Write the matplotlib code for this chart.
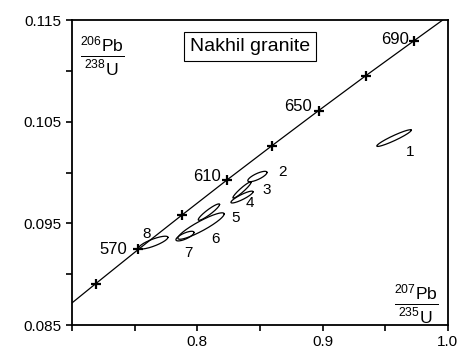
import numpy as np
import matplotlib as mpl
mpl.use('Agg')
from matplotlib import pyplot as plt

plt.rcParams['font.family'] = ['Liberation Sans', 'DejaVu Sans']
plt.rcParams['mathtext.fontset'] = 'custom'
plt.rcParams['mathtext.rm'] = 'Liberation Sans'

# concordia points (207Pb/235U, 206Pb/238U), stars every 20 Ma
ages = [550, 570, 590, 610, 630, 650, 670, 690]
conc_x = [0.7189, 0.7531, 0.7880, 0.8235, 0.8598, 0.8968, 0.9345, 0.9730]
conc_y = [0.08906, 0.09245, 0.09584, 0.09925, 0.10266, 0.10609, 0.10953, 0.11297]
# where the curve leaves the frame
line_x = [0.700] + conc_x + [0.9958]
line_y = [0.08717] + conc_y + [0.1150]
age_labels = {570: '570', 610: '610', 650: '650', 690: '690'}

# zircon error ellipses: centre, half widths, correlation
ell_id = ['1', '2', '3', '4', '5', '6', '7', '8']
ell_cx = [0.9570, 0.8480, 0.8357, 0.8357, 0.8093, 0.8030, 0.7902, 0.7650]
ell_cy = [0.10339, 0.09961, 0.09828, 0.09759, 0.09611, 0.09474, 0.09375, 0.09311]
ell_sx = [0.01377, 0.00766, 0.00725, 0.00883, 0.00850, 0.01848, 0.00721, 0.01161]
ell_sy = [0.000821, 0.000512, 0.000798, 0.000584, 0.000806, 0.001301, 0.000475, 0.000630]
ell_rho = [0.944, 0.777, 0.945, 0.883, 0.926, 0.91, 0.741, 0.813]
# label positions for each ellipse
lab_x = [0.9697, 0.8684, 0.8556, 0.8421, 0.8309, 0.8149, 0.7926, 0.7599]
lab_y = [0.10200, 0.10005, 0.09828, 0.09700, 0.09552, 0.09346, 0.09208, 0.09395]

fig = plt.figure(figsize=(4.73, 3.58), dpi=100)
ax = fig.add_axes([0.152, 0.092, 0.795, 0.852])

ax.plot(line_x, line_y, color='black', lw=0.9)
ax.plot(conc_x, conc_y, ls='none', marker='+', ms=7, mew=1.6, color='black')

offsets = {570: (-8, 0), 610: (-4, 3), 650: (-5, 3), 690: (-4, 1)}
for a, x, y in zip(ages, conc_x, conc_y):
    if a in age_labels:
        ax.annotate(age_labels[a], (x, y), xytext=offsets[a], textcoords='offset points',
                    ha='right', va='center', fontsize=12)

t = np.linspace(0, 2 * np.pi, 300)
for i in range(len(ell_id)):
    r = ell_rho[i]
    ex = ell_cx[i] + ell_sx[i] * np.cos(t)
    ey = ell_cy[i] + ell_sy[i] * (r * np.cos(t) + np.sqrt(1 - r * r) * np.sin(t))
    ax.plot(ex, ey, color='black', lw=0.9)
    ax.text(lab_x[i], lab_y[i], ell_id[i], ha='center', va='center', fontsize=11)

ax.text(0.842, 0.1124, 'Nakhil granite', ha='center', va='center', fontsize=14,
        bbox=dict(boxstyle='square,pad=0.3', fc='white', ec='black', lw=0.8))

ax.text(0.7239, 0.1114, r'$\frac{^{206}\mathrm{Pb}}{^{238}\mathrm{U}}$', ha='center', va='center', fontsize=18)
ax.text(0.9745, 0.0870, r'$\frac{^{207}\mathrm{Pb}}{^{235}\mathrm{U}}$', ha='center', va='center', fontsize=18)

ax.set_xlim(0.7, 1.0)
ax.set_ylim(0.085, 0.115)
xt = [0.7, 0.75, 0.8, 0.85, 0.9, 0.95, 1.0]
ax.set_xticks(xt)
ax.set_xticklabels(['', '', '0.8', '', '0.9', '', '1.0'])
yt = [0.085, 0.09, 0.095, 0.1, 0.105, 0.11, 0.115]
ax.set_yticks(yt)
ax.set_yticklabels(['0.085', '', '0.095', '', '0.105', '', '0.115'])
ax.tick_params(direction='out', length=4, width=1.2, labelsize=11)
for s in ax.spines.values():
    s.set_linewidth(1.3)

fig.savefig('out.png', dpi=100)
